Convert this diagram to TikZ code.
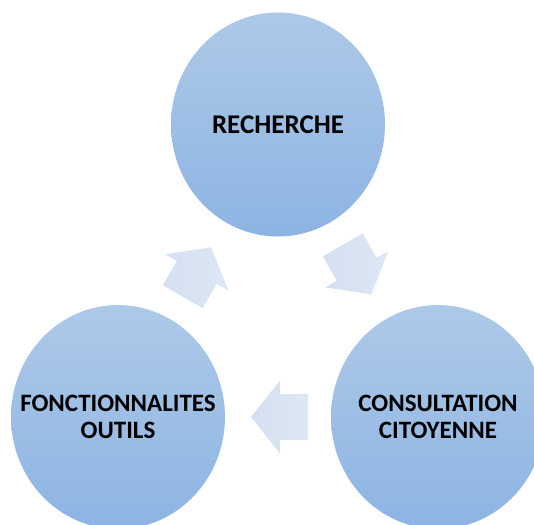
\documentclass[tikz,border=0pt]{standalone}
\usepackage{fontspec}
\setmainfont{Carlito}
\usetikzlibrary{shapes.geometric}
\definecolor{circtop}{HTML}{ADC9E8}
\definecolor{circbot}{HTML}{8DB4E2}
\definecolor{arrowfill}{HTML}{D4E0F1}
\definecolor{arrowlight}{HTML}{DDE7F4}
\tikzset{
  stage/.style={ellipse, minimum width=214pt, minimum height=224pt, inner sep=0pt,
    top color=circtop, bottom color=circbot, draw=none},
  stagetext/.style={align=center, inner sep=0pt,
    font=\fontsize{25}{27}\selectfont\bfseries, text=black},
  blockarrow/.style={left color=arrowfill, right color=arrowlight, draw=none}
}
\begin{document}
\begin{tikzpicture}[x=1pt,y=-1pt]
\useasboundingbox (0,0) rectangle (534,524);
\clip (0,0) rectangle (534,524);
\node[stage, label={[stagetext, font=\fontsize{27}{29}\selectfont\bfseries]center:RECHERCHE}] (rech) at (278,124.5) {};
\node[stage, label={[stagetext]center:FONCTIONNALITES\\OUTILS}] (fonc) at (118,417) {};
\node[stage, label={[stagetext]center:CONSULTATION\\CITOYENNE}] (cons) at (438,417) {};
% block arrows (shape pointing along +x, centred at origin)
\foreach \cx/\cy/\ang in {357/269.6/-60, 279.5/417/180, 197/272/60}{
  \path[blockarrow, shift={(\cx,\cy)}, rotate=\ang]
    (28.5,0) -- (-0.5,-36.5) -- (-0.5,-23) -- (-28.5,-23) -- (-28.5,23)
    -- (-0.5,23) -- (-0.5,36.5) -- cycle;
}
\end{tikzpicture}
\end{document}
